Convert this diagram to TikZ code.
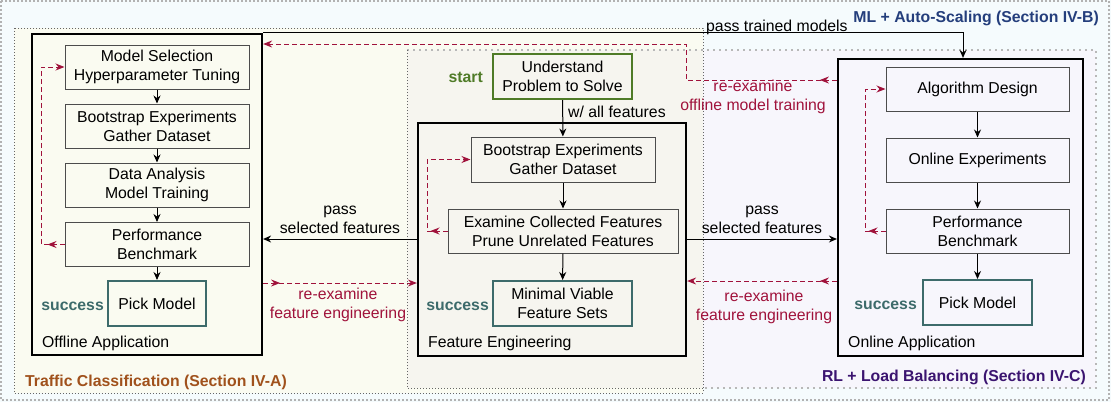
\documentclass[tikz,border=0pt]{standalone}
\usepackage{fontspec}
\setmainfont{Liberation Sans}
\usetikzlibrary{arrows.meta,calc,decorations.markings}
\definecolor{outerbg}{HTML}{F5FBFD}
\definecolor{tcbg}{HTML}{FAFBF1}
\definecolor{rlbg}{HTML}{F7F6FC}
\definecolor{febg}{HTML}{F6F5EF}
\definecolor{redc}{HTML}{A0123B}
\definecolor{tealc}{HTML}{3D6B6B}
\definecolor{greenc}{HTML}{4F7B27}
\definecolor{tcc}{HTML}{A0511C}
\definecolor{mlc}{HTML}{243E7C}
\definecolor{rlc}{HTML}{3B1470}
\tikzset{
  lbl/.style={font=\fontsize{15.8}{19}\selectfont, inner sep=0pt},
  stepbox/.style={draw=black!70, line width=1pt, align=center, inner sep=0pt,
    font=\fontsize{15.8}{19}\selectfont, minimum height=44pt},
  bigbox/.style={draw=black, line width=2.2pt, inner sep=0pt},
  goalbox/.style={stepbox, draw=tealc, line width=2pt},
  startbox/.style={stepbox, draw=greenc, line width=2pt},
  flow/.style={draw=black, line width=1pt, -{Stealth[length=8pt,width=7pt]}},
  redflow/.style={draw=redc, line width=1pt, dash pattern=on 5pt off 3pt,
    -{Stealth[length=9pt,width=7pt]}, postaction={decorate},
    decoration={markings, mark=at position 17pt with {\arrow{Stealth[length=9pt,width=7pt]}}}},
  redtxt/.style={lbl, text=redc, align=center},
  oktxt/.style={inner sep=0pt, text=tealc, font=\fontsize{15.8}{19}\selectfont\bfseries},
  regtxt/.style={inner sep=0pt, font=\fontsize{15.8}{19}\selectfont\bfseries},
  thindot/.style={draw=black!60, line width=0.8pt, dash pattern=on 0.8pt off 2.2pt},
  graydot/.style={draw=black!28, line width=2pt, dash pattern=on 2pt off 4pt},
}
\begin{document}
\begin{tikzpicture}[x=1pt,y=-1pt]
\useasboundingbox (0,0) rectangle (1111,402);
% regions
\fill[outerbg] (0,0) rectangle (1111,402);
\draw[draw=black!30, line width=1.5pt, dash pattern=on 2pt off 2pt] (1,1) rectangle (1109,400);
\fill[tcbg] (14,28) rectangle (703,393);
\fill[rlbg] (407,50) rectangle (1096,388);
\fill[febg] (407,50) rectangle (703,388);
\draw[graydot] (407,50) -- (1096,50) -- (1096,388) -- (703,388);
\draw[thindot] (14,28) rectangle (703,393);
\draw[thindot] (407,50) -- (407,388) -- (703,388);
\node[regtxt, text=tcc, anchor=base west] (tclbl) at (25,386) {Traffic Classification (Section IV-A)};
\node[regtxt, text=rlc, anchor=base east] (rllbl) at (1086,381) {RL + Load Balancing (Section IV-C)};
\node[regtxt, text=mlc, anchor=base east] (mllbl) at (1099,22) {ML + Auto-Scaling (Section IV-B)};

% big boxes
\node[bigbox, minimum width=230pt, minimum height=321pt] (offline) at (147,194.5) {};
\node[bigbox, minimum width=268pt, minimum height=233pt] (fe) at (552,239.5) {};
\node[bigbox, minimum width=245pt, minimum height=297pt] (online) at (960.5,207.5) {};
\node[lbl, anchor=base west] (offlbl) at (42,347) {Offline Application};
\node[lbl, anchor=base west] (felbl) at (428,347) {Feature Engineering};
\node[lbl, anchor=base west] (onlbl) at (848,347) {Online Application};

% offline steps
\node[stepbox, minimum width=184pt] (ms) at (157,67) {Model Selection\\Hyperparameter Tuning};
\node[stepbox, minimum width=184pt] (bs1) at (157,126) {Bootstrap Experiments\\Gather Dataset};
\node[stepbox, minimum width=184pt] (da) at (157,185) {Data Analysis\\Model Training};
\node[stepbox, minimum width=184pt] (pb1) at (157,244.5) {Performance\\Benchmark};
\node[goalbox, minimum width=98pt, minimum height=45pt] (pm1) at (157,303.5) {Pick Model};
\node[oktxt, anchor=east] (ok1) at ([xshift=-3pt,yshift=-3pt]pm1.west) {success};

% feature engineering steps
\node[startbox, minimum width=139pt, minimum height=45pt] (up) at (562.5,76.5) {Understand\\Problem to Solve};
\node[lbl, text=greenc, font=\fontsize{15.8}{19}\selectfont\bfseries, anchor=east] (st) at ([xshift=-9pt,yshift=-1pt]up.west) {start};
\node[stepbox, minimum width=184pt, minimum height=45pt] (bs2) at (563,159.5) {Bootstrap Experiments\\Gather Dataset};
\node[stepbox, minimum width=230pt] (ex) at (563,231) {Examine Collected Features\\Prune Unrelated Features};
\node[goalbox, minimum width=139pt, minimum height=45pt] (mv) at (562.5,303.5) {Minimal Viable\\Feature Sets};
\node[oktxt, anchor=east] (ok2) at ([xshift=-3pt,yshift=-3pt]mv.west) {success};

% online steps
\node[stepbox, minimum width=183pt] (ad) at (977.5,89) {Algorithm Design};
\node[stepbox, minimum width=183pt] (oe) at (977.5,160) {Online Experiments};
\node[stepbox, minimum width=183pt] (pb2) at (977.5,231) {Performance\\Benchmark};
\node[goalbox, minimum width=109pt, minimum height=45pt] (pm2) at (977.5,302.5) {Pick Model};
\node[oktxt, anchor=east] (ok3) at ([xshift=-5pt,yshift=-3pt]pm2.west) {success};

% helper coordinates
\coordinate (ysel) at (0,239);
\coordinate (yA) at (0,283);
\coordinate (yB) at (0,281);
\coordinate (yC) at (0,80);
\coordinate (yD) at (0,44);
\coordinate (xE) at (686,0);
\coordinate (xL1) at (41,0);
\coordinate (xL2) at (427,0);
\coordinate (xL3) at (865,0);

% step arrows
\draw[flow] (ms) -- (bs1);
\draw[flow] (bs1) -- (da);
\draw[flow] (da) -- (pb1);
\draw[flow] (pb1) -- (pm1);
\draw[flow] (up) -- (bs2);
\node[lbl, anchor=west] (wall) at (568,111.5) {w/ all features};
\draw[flow] (bs2) -- (ex);
\draw[flow] (ex) -- (mv);
\draw[flow] (ad) -- (oe);
\draw[flow] (oe) -- (pb2);
\draw[flow] (pb2) -- (pm2);

% feedback loops
\draw[redflow] (pb1.west) -- (pb1.west -| xL1) |- (ms.west);
\draw[redflow] (ex.west) -- (ex.west -| xL2) |- (bs2.west);
\draw[redflow] (pb2.west) -- (pb2.west -| xL3) |- (ad.west);

% between applications
\draw[flow] (fe.west |- ysel) -- (offline.east |- ysel);
\node[lbl, align=center] (psf1) at (340,220) {pass\\selected features};
\draw[flow] (fe.east |- ysel) -- (online.west |- ysel);
\node[lbl, align=center] (psf2) at (762,220) {pass\\selected features};

\draw[redflow] (offline.east |- yA) -- (fe.west |- yA);
\node[redtxt] (rfe1) at (338,304.5) {re-examine\\feature engineering};
\draw[redflow] (online.west |- yB) -- (fe.east |- yB);
\node[redtxt] (rfe2) at (764,306.5) {re-examine\\feature engineering};

\draw[redflow] (online.west |- yC) -- (xE |- yC) -- (xE |- yD) -- (offline.east |- yD);
\node[redtxt] (rom) at (753,97) {re-examine\\offline model training};

\draw[flow] (offline.north east) -| ($(online.north)+(2.5,0)$);
\node[lbl, anchor=base west] (ptm) at (706,31) {pass trained models};
\end{tikzpicture}
\end{document}
